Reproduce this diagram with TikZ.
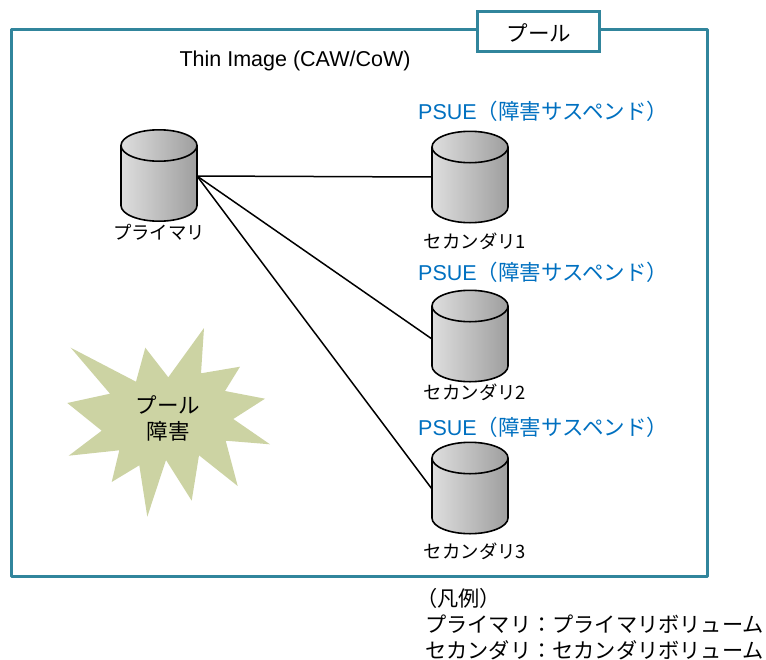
\documentclass[tikz,border=0pt]{standalone}
\usepackage{fontspec}
\setmainfont{Liberation Sans}
\newfontfamily\cjk{Noto Sans CJK JP}
\definecolor{poolblue}{HTML}{31859C}
\definecolor{burst}{HTML}{CCD3A3}
\definecolor{psue}{HTML}{0070C0}
\tikzset{
  x=1pt,y=-1pt,
  lbl/.style={inner sep=0pt,anchor=center,text=black},
  psuelbl/.style={inner sep=0pt,anchor=west,text=psue,font=\fontsize{21.5}{26}\selectfont},
  jplbl/.style={inner sep=0pt,anchor=center,font=\cjk\fontsize{18.4}{22}\selectfont},
  legend/.style={inner sep=0pt,anchor=west,font=\cjk\fontsize{21.2}{26}\selectfont},
  link/.style={draw=black,line width=1.5pt},
}
\newcommand{\cyl}[2]{% name, top y
  \begin{scope}[shift={(#2)}]
  \shade[left color=white!87!black,right color=white!62!black]
    (-38,16) arc[x radius=38,y radius=15.7,start angle=180,end angle=360] -- (38,76)
    arc[x radius=38,y radius=15.7,start angle=0,end angle=180] -- cycle;
  \draw[black,line width=1.6pt] (-38,16) arc[x radius=38,y radius=15.7,start angle=180,end angle=-180]
    (-38,16) -- (-38,76) arc[x radius=38,y radius=15.7,start angle=180,end angle=0] -- (38,16);
  \end{scope}
}
\begin{document}
\begin{tikzpicture}
\useasboundingbox (0,0) rectangle (766,659);
\coordinate (pl) at (197,176);
\coordinate (s1) at (432,177);
\coordinate (s2) at (432,339);
\coordinate (s3) at (432,489);
\draw[draw=poolblue,line width=3pt,line join=round] (11,29) rectangle (707,576);
\draw[link] (pl) -- (s1);
\draw[link] (pl) -- (s2);
\draw[link] (pl) -- (s3);
\cyl{p}{159,129.5}
\cyl{a}{470,131}
\cyl{b}{470,290}
\cyl{c}{470,442}
\node[draw=poolblue,fill=white,line width=3pt,minimum width=122pt,minimum height=40pt,inner sep=0pt] (pool) at (538,31.5) {};
\node[lbl,font=\cjk\fontsize{21.5}{26}\selectfont] (pooltxt) at (539,32.5) {プール};
\node[lbl,font=\fontsize{21.5}{26}\selectfont] (title) at (295,61) {Thin Image (CAW/CoW)};
\node[psuelbl] (e1) at (418,111) {PSUE\cjk（障害サスペンド）};
\node[psuelbl] (e2) at (418,272) {PSUE\cjk（障害サスペンド）};
\node[psuelbl] (e3) at (418,427) {PSUE\cjk（障害サスペンド）};
\node[jplbl] (lp) at (159,232.5) {プライマリ};
\node[jplbl] (l1) at (475,241.5) {セカンダリ1};
\node[jplbl] (l2) at (475,392) {セカンダリ2};
\node[jplbl] (l3) at (475,551.5) {セカンダリ3};
\fill[burst] (204,328)--(201,373.3)--(240,366.7)--(225,391)--(265,398.7)--(233.3,419)--(270,444.3)--(225.7,440.7)--(237.7,486)--(199,455.3)--(191.7,500.7)--(166,460)--(147.3,516.7)--(139.3,465.3)--(111.7,482)--(119.3,450.3)--(68.7,455.7)--(101.7,430.7)--(67.3,403)--(110,393.7)--(70.7,347.7)--(136,381.7)--(145.3,347.7)--(168.3,377.3)--cycle;
\node[lbl,font=\cjk\fontsize{21.5}{26}\selectfont,align=center] (fail) at (168,418.5) {プール\\障害};
\node[legend] (k0) at (416,598.5) {（凡例）};
\node[legend] (k1) at (425,624.5) {プライマリ：プライマリボリューム};
\node[legend] (k2) at (425,650.5) {セカンダリ：セカンダリボリューム};
\end{tikzpicture}
\end{document}
